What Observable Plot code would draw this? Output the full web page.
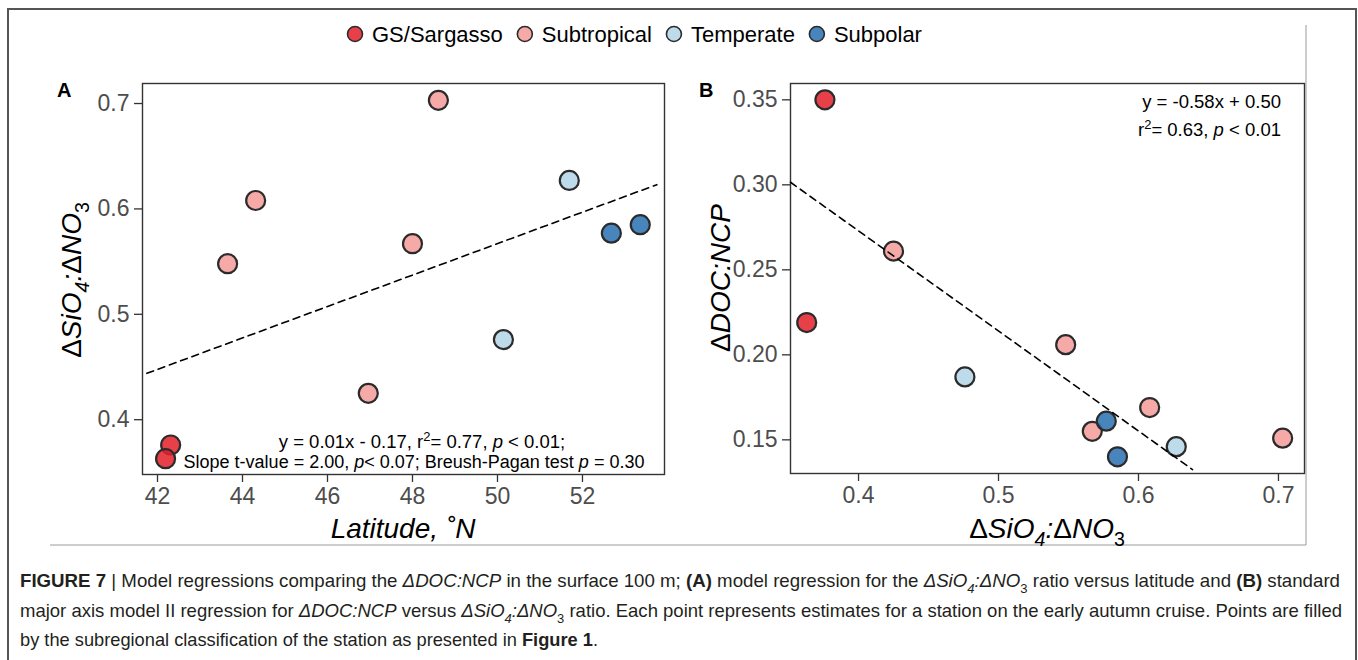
<!DOCTYPE html>
<html><head><meta charset="utf-8">
<script src="https://cdn.jsdelivr.net/npm/d3@7"></script>
<script src="https://cdn.jsdelivr.net/npm/@observablehq/plot@0.6"></script>
<style>
html,body{margin:0;padding:0;background:#fff;}
#root{position:relative;width:1358px;height:660px;overflow:hidden;font-family:"Liberation Sans",Arial,sans-serif;}
#root svg{position:absolute;}
</style></head><body><div id="root"></div>
<script>
// ---------- data ----------
const regions = ["GS/Sargasso", "Subtropical", "Temperate", "Subpolar"];
const regionColors = ["#E41E28", "#F49B99", "#B3D5E8", "#2870B2"];
const stationRegion = ["GS/Sargasso","GS/Sargasso","Subtropical","Subtropical","Subtropical","Subtropical","Subtropical","Temperate","Temperate","Subpolar","Subpolar"];
const latitude = [42.31, 42.19, 43.65, 44.31, 46.96, 48.00, 48.61, 50.14, 51.69, 52.68, 53.36];
const sio4no3  = [0.376, 0.363, 0.548, 0.608, 0.425, 0.567, 0.703, 0.476, 0.627, 0.577, 0.585];
const docNcp   = [0.350, 0.219, 0.206, 0.169, 0.261, 0.155, 0.151, 0.187, 0.146, 0.161, 0.140];
const xTicksA = [42, 44, 46, 48, 50, 52];
const yTicksA = [0.4, 0.5, 0.6, 0.7];
const xTicksB = [0.4, 0.5, 0.6, 0.7];
const yTicksB = [0.15, 0.20, 0.25, 0.30, 0.35];
const fitAx = [41.75, 53.75], fitAy = [0.444, 0.623];
const fitBx = [0.3514, 0.6386], fitBy = [0.3015, 0.1325];

const stations = latitude.map((lat, i) => ({lat, si: sio4no3[i], doc: docNcp[i], region: stationRegion[i]}));
const fitA = fitAx.map((x, i) => ({x, y: fitAy[i]}));
const fitB = fitBx.map((x, i) => ({x, y: fitBy[i]}));

const root = document.getElementById("root");
const FONT = "'Liberation Sans', Arial, sans-serif";
const common = {
  style: {fontFamily: FONT, fontSize: "23px", background: "transparent", overflow: "visible"},
  color: {domain: regions, range: regionColors}
};
const axOpts = {tickSize: 8, stroke: "#333", strokeWidth: 1.3, fill: "#4d4d4d", fontSize: 23, label: null};
const dotOpts = {fill: "region", r: 9.5, stroke: "#2b2b2b", strokeWidth: 2.2, fillOpacity: 0.85};
const lineOpts = {x: "x", y: "y", stroke: "#000", strokeWidth: 1.6, strokeDasharray: "7,5"};

const plotA = Plot.plot({
  ...common,
  width: 684, height: 550, marginLeft: 142, marginRight: 20, marginTop: 83, marginBottom: 76,
  x: {domain: [41.647, 53.93]},
  y: {domain: [0.348, 0.719]},
  marks: [
    Plot.axisX(xTicksA, {...axOpts, tickPadding: 5, tickFormat: d => String(d)}),
    Plot.axisY(yTicksA, {...axOpts, tickPadding: 5, tickFormat: d3.format(".1f")}),
    Plot.frame({stroke: "#333", strokeWidth: 1.4}),
    Plot.dot(stations, {x: "lat", y: "si", ...dotOpts}),
    Plot.line(fitA, lineOpts)
  ]
});
plotA.style.left = "0px"; plotA.style.top = "0px";
root.appendChild(plotA);

const plotB = Plot.plot({
  ...common,
  width: 664, height: 550, marginLeft: 140, marginRight: 10, marginTop: 83, marginBottom: 77,
  x: {domain: [0.3514, 0.7186]},
  y: {domain: [0.1302, 0.3596]},
  marks: [
    Plot.axisX(xTicksB, {...axOpts, tickPadding: 5, tickFormat: d3.format(".1f")}),
    Plot.axisY(yTicksB, {...axOpts, tickPadding: 5, tickFormat: d3.format(".2f")}),
    Plot.frame({stroke: "#333", strokeWidth: 1.4}),
    Plot.dot(stations, {x: "si", y: "doc", ...dotOpts}),
    Plot.line(fitB, lineOpts)
  ]
});
plotB.style.left = "650px"; plotB.style.top = "0px";
root.appendChild(plotB);

// ---------- overlay: text, legend, frames ----------
const ov = d3.select(root).append("svg")
  .attr("width", 1358).attr("height", 660)
  .style("left", "0px").style("top", "0px")
  .style("font-family", FONT);

function rich(parent, o, segs) {
  const size = o.size;
  const t = parent.append("text").attr("x", o.x).attr("y", o.y)
    .attr("font-size", size).attr("text-anchor", o.anchor || "start")
    .attr("fill", o.fill || "#000");
  if (o.weight) t.attr("font-weight", o.weight);
  if (o.rotate) t.attr("transform", `rotate(${o.rotate},${o.x},${o.y})`);
  if (o.length) t.attr("textLength", o.length).attr("lengthAdjust", "spacingAndGlyphs");
  let shift = 0;
  for (const s of segs) {
    const str = s[0], toks = (s[1] || "").split(" ");
    const sp = t.append("tspan").text(str);
    let target = 0, fs = size;
    if (toks.includes("sub")) { target = size * 0.3; fs = size * 0.7; }
    if (toks.includes("sup")) { target = -size * 0.38; fs = size * 0.7; }
    if (target !== shift) { sp.attr("dy", target - shift); shift = target; }
    sp.attr("font-size", fs);
    if (toks.includes("i")) sp.attr("font-style", "italic");
    if (toks.includes("b")) sp.attr("font-weight", "bold");
  }
  return t;
}

// figure frames
ov.append("path").attr("d", "M8,660 V9 H1356 V660").attr("fill", "none").attr("stroke", "#555").attr("stroke-width", 2);
ov.append("path").attr("d", "M1306,25 V545 H50").attr("fill", "none").attr("stroke", "#9a9a9a").attr("stroke-width", 1);

// legend
let lx = 355;
regions.forEach((r, i) => {
  ov.append("circle").attr("cx", lx).attr("cy", 34).attr("r", 7.5)
    .attr("fill", regionColors[i]).attr("fill-opacity", 0.85)
    .attr("stroke", "#2b2b2b").attr("stroke-width", 1.6);
  const t = ov.append("text").attr("x", lx + 17).attr("y", 42).attr("font-size", 22).attr("fill", "#000").text(r);
  lx += 17 + t.node().getComputedTextLength() + 22;
});

// panel letters
rich(ov, {x: 57, y: 97, size: 20, weight: "bold"}, [["A"]]);
rich(ov, {x: 699, y: 97, size: 20, weight: "bold"}, [["B"]]);

// axis titles
const sioTitle = [["Δ"], ["SiO", "i"], ["4", "i sub"], [":", "i"], ["Δ"], ["NO", "i"], ["3", "sub"]];
rich(ov, {x: 81, y: 280, size: 28, anchor: "middle", rotate: -90}, sioTitle);
rich(ov, {x: 730, y: 278, size: 28, anchor: "middle", rotate: -90}, [["Δ"], ["DOC:NCP", "i"]]);
rich(ov, {x: 403, y: 538, size: 28, anchor: "middle"}, [["Latitude, ˚N", "i"]]);
rich(ov, {x: 1047, y: 538, size: 28, anchor: "middle"}, sioTitle);

// regression annotations
rich(ov, {x: 422, y: 448, size: 18.5, anchor: "middle"},
  [["y = 0.01x - 0.17, r"], ["2", "sup"], ["= 0.77, "], ["p", "i"], [" < 0.01;"]]);
rich(ov, {x: 414, y: 468, size: 18, anchor: "middle"},
  [["Slope t-value = 2.00, "], ["p", "i"], ["< 0.07; Breush-Pagan test "], ["p", "i"], [" = 0.30"]]);
rich(ov, {x: 1281, y: 108, size: 18.5, anchor: "end"}, [["y = -0.58x + 0.50"]]);
rich(ov, {x: 1281, y: 136, size: 18.5, anchor: "end"},
  [["r"], ["2", "sup"], ["= 0.63, "], ["p", "i"], [" < 0.01"]]);

// caption
const cap = ov.append("g").attr("fill", "#231f20");
rich(cap, {x: 20, y: 587, size: 18.5, length: 1320, fill: "#231f20"}, [
  ["FIGURE 7", "b"], [" | "], ["Model regressions comparing the "], ["ΔDOC:NCP", "i"],
  [" in the surface 100 m; "], ["(A)", "b"], [" model regression for the "], ["ΔSiO", "i"], ["4", "i sub"],
  [":ΔNO", "i"], ["3", "sub"], [" ratio versus latitude and "], ["(B)", "b"], [" standard"]]);
rich(cap, {x: 20, y: 617, size: 18.5, length: 1322, fill: "#231f20"}, [
  ["major axis model II regression for "], ["ΔDOC:NCP", "i"], [" versus "], ["ΔSiO", "i"], ["4", "i sub"],
  [":ΔNO", "i"], ["3", "sub"], [" ratio. Each point represents estimates for a station on the early autumn cruise. Points are filled"]]);
rich(cap, {x: 20, y: 646, size: 18.5, length: 578, fill: "#231f20"}, [
  ["by the subregional classification of the station as presented in "], ["Figure 1", "b"], ["."]]);
</script></body></html>
